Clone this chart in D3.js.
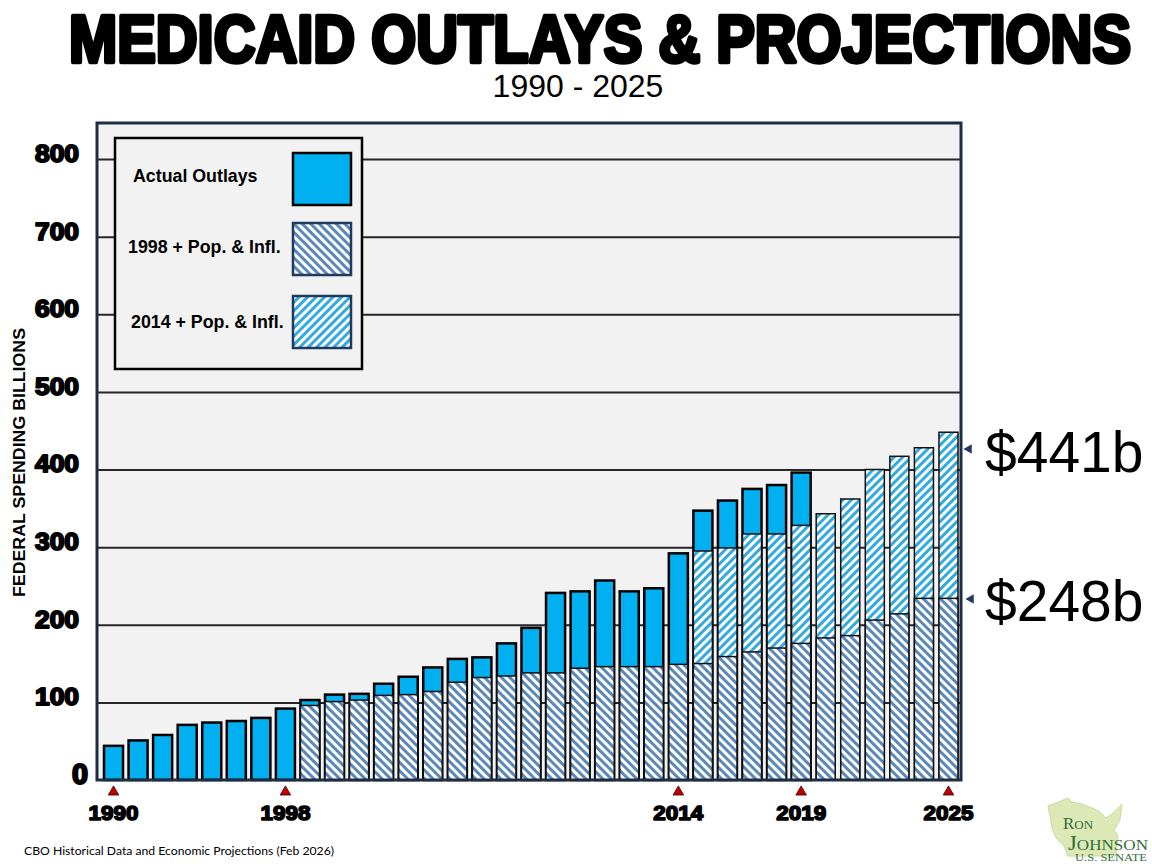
<!DOCTYPE html>
<html>
<head>
<meta charset="utf-8">
<script src="https://cdn.jsdelivr.net/npm/d3@7"></script>
<style>
  body { margin: 0; background: #fff; }
  svg { display: block; }
  .heavy { font-family: "Liberation Sans", Arial, sans-serif; font-weight: bold; stroke: #000; stroke-linejoin: round; paint-order: stroke; }
  .arial { font-family: "Liberation Sans", Arial, sans-serif; }
</style>
</head>
<body>
<div id="chart"></div>
<script>
// Data (billions of dollars)
var years = [1991, 1992, 1993, 1994, 1995, 1996, 1997, 1998, 1999, 2000,
             2001, 2002, 2003, 2004, 2005, 2006, 2007, 2008, 2009, 2010,
             2011, 2012, 2013, 2014, 2015, 2016, 2017, 2018, 2019, 2020,
             2021, 2022, 2023, 2024, 2025];

var actualOutlays = [44, 51, 58, 71, 74, 76, 80, 92, 103, 110,
                     111, 124, 133, 145, 156, 158, 176, 196, 241, 243,
                     257, 243, 247, 292, 347, 360, 375, 380, 396, null,
                     null, null, null, null, null];

var proj1998 = [null, null, null, null, null, null, null, null, 96, 101,
                103, 109, 110, 114, 126, 132, 134, 138, 138, 144,
                146, 146, 146, 149, 150, 159, 165, 170, 176, 183,
                186, 206, 214, 234, 234];

var proj2014 = [null, null, null, null, null, null, null, null, null, null,
                null, null, null, null, null, null, null, null, null, null,
                null, null, null, null, 295, 299, 317, 317, 328, 343,
                362, 400, 417, 428, 448];

var yTicks = [0, 100, 200, 300, 400, 500, 600, 700, 800];
var tickYears = [1991, 1998, 2014, 2019, 2025];
var tickLabels = ["1990", "1998", "2014", "2019", "2025"];
var legendLabels = ["Actual Outlays", "1998 + Pop. & Infl.", "2014 + Pop. & Infl."];
var calloutLabels = ["$441b", "$248b"];

var svgWidth = 1152;
var svgHeight = 864;
var plot = { left: 97, right: 961, top: 123, bottom: 780 };

var svg = d3.select("#chart").append("svg")
  .attr("width", svgWidth)
  .attr("height", svgHeight);

// hatch patterns
var defs = svg.append("defs");
function hatch(id, color, angle) {
  var p = defs.append("pattern")
    .attr("id", id)
    .attr("patternUnits", "userSpaceOnUse")
    .attr("width", 6)
    .attr("height", 6)
    .attr("patternTransform", `rotate(${angle})`);
  p.append("rect").attr("width", 6).attr("height", 6).attr("fill", "#fff");
  p.append("rect").attr("width", 3).attr("height", 6).attr("fill", color);
}
hatch("hatch1998", "#5b88bb", -45);
hatch("hatch2014", "#33aade", 45);

// plot background
svg.append("rect")
  .attr("x", plot.left).attr("y", plot.top)
  .attr("width", plot.right - plot.left)
  .attr("height", plot.bottom - plot.top)
  .attr("fill", "#f2f2f2");

// scales
var x = d3.scaleBand()
  .domain(years)
  .range([104, 958])
  .paddingInner(0.225)
  .paddingOuter(0);

var y = d3.scaleLinear()
  .domain([0, 800])
  .range([plot.bottom, 159]);

// gridlines
svg.append("g")
  .attr("transform", `translate(${plot.left},0)`)
  .call(d3.axisLeft(y).tickValues(yTicks.slice(1)).tickSize(-(plot.right - plot.left)).tickFormat(""))
  .call(g => g.select(".domain").remove())
  .selectAll("line")
  .attr("stroke", "#262626")
  .attr("stroke-width", 2);

// bars: actual, then 2014 projection, then 1998 projection on top
var series = [
  { values: actualOutlays, fill: "#00b0f0", stroke: "#000", width: 2.5 },
  { values: proj2014, fill: "url(#hatch2014)", stroke: "#111", width: 1.5 },
  { values: proj1998, fill: "url(#hatch1998)", stroke: "#111", width: 1.5 }
];

series.forEach(function(s) {
  var rows = years.map((yr, i) => ({ year: yr, v: s.values[i] })).filter(d => d.v != null);
  svg.append("g").selectAll("rect")
    .data(rows)
    .join("rect")
    .attr("x", d => x(d.year))
    .attr("y", d => y(d.v))
    .attr("width", x.bandwidth())
    .attr("height", d => y(0) - y(d.v))
    .attr("fill", s.fill)
    .attr("stroke", s.stroke)
    .attr("stroke-width", s.width);
});

// frame
svg.append("rect")
  .attr("x", plot.left).attr("y", plot.top)
  .attr("width", plot.right - plot.left)
  .attr("height", plot.bottom - plot.top)
  .attr("fill", "none")
  .attr("stroke", "#1f2d44")
  .attr("stroke-width", 3);

// y tick labels
var yAxis = svg.append("g")
  .attr("transform", `translate(${plot.left},0)`)
  .call(d3.axisLeft(y).tickValues(yTicks).tickSize(0).tickPadding(18))
  .call(g => g.select(".domain").remove());

yAxis.selectAll("text")
  .attr("class", "heavy")
  .attr("font-size", 23)
  .attr("stroke-width", 1.8)
  .attr("textLength", 44)
  .attr("lengthAdjust", "spacingAndGlyphs")
  .attr("fill", "#000")
  .attr("y", -5);

yAxis.selectAll(".tick").filter(d => d === 0).select("text")
  .attr("font-size", 29)
  .attr("stroke-width", 2.2)
  .attr("textLength", 16)
  .attr("x", -9)
  .attr("y", -6);

// x tick labels with red markers
var xAxis = svg.append("g")
  .attr("transform", `translate(0,${plot.bottom})`)
  .call(d3.axisBottom(x).tickValues(tickYears).tickSize(0).tickPadding(25)
    .tickFormat((d, i) => tickLabels[i]))
  .call(g => g.select(".domain").remove());

xAxis.selectAll("text")
  .attr("class", "heavy")
  .attr("font-size", 21)
  .attr("stroke-width", 1.6)
  .attr("textLength", 50)
  .attr("lengthAdjust", "spacingAndGlyphs")
  .attr("fill", "#000");

xAxis.selectAll(".tick").append("path")
  .attr("d", d3.symbol(d3.symbolTriangle, 48))
  .attr("transform", "translate(0,12)")
  .attr("fill", "#c00000")
  .attr("stroke", "#3a0000")
  .attr("stroke-width", 0.8);

// y axis title
svg.append("text")
  .attr("class", "arial")
  .attr("transform", "translate(25,462.5) rotate(-90)")
  .attr("text-anchor", "middle")
  .attr("font-size", 17)
  .attr("font-weight", "bold")
  .attr("textLength", 269)
  .attr("lengthAdjust", "spacingAndGlyphs")
  .text("FEDERAL SPENDING BILLIONS");

// legend
var legend = svg.append("g");
legend.append("rect")
  .attr("x", 115).attr("y", 138)
  .attr("width", 247).attr("height", 231)
  .attr("fill", "#f2f2f2")
  .attr("stroke", "#000")
  .attr("stroke-width", 2.5);

var legendItems = [
  { fill: "#00b0f0", stroke: "#000", sy: 153, tx: 133, ty: 182 },
  { fill: "url(#hatch1998)", stroke: "#1f3a5f", sy: 223, tx: 128, ty: 253 },
  { fill: "url(#hatch2014)", stroke: "#1f3a5f", sy: 296, tx: 131, ty: 328 }
];

legend.selectAll(".swatch")
  .data(legendItems)
  .join("rect")
  .attr("class", "swatch")
  .attr("x", 293).attr("y", d => d.sy)
  .attr("width", 58).attr("height", 52)
  .attr("fill", d => d.fill)
  .attr("stroke", d => d.stroke)
  .attr("stroke-width", 2.5);

legend.selectAll(".ltext")
  .data(legendItems)
  .join("text")
  .attr("class", "ltext arial")
  .attr("x", d => d.tx).attr("y", d => d.ty)
  .attr("font-size", 17.8)
  .attr("font-weight", "bold")
  .attr("fill", "#000")
  .text((d, i) => legendLabels[i]);

// right-hand callouts
var callouts = [{ ty: 472, my: 449, mx: 969 }, { ty: 621, my: 599, mx: 971 }];
svg.selectAll(".callmark")
  .data(callouts)
  .join("path")
  .attr("class", "callmark")
  .attr("d", d3.symbol(d3.symbolTriangle, 40))
  .attr("transform", d => `translate(${d.mx},${d.my}) rotate(-90)`)
  .attr("fill", "#1f3a5f");

svg.selectAll(".calltext")
  .data(callouts)
  .join("text")
  .attr("class", "calltext arial")
  .attr("x", 985).attr("y", d => d.ty)
  .attr("font-size", 57)
  .attr("fill", "#000")
  .text((d, i) => calloutLabels[i]);

// titles (smaller font stretched vertically, so the natural width stays on the page)
svg.append("text")
  .attr("class", "heavy")
  .attr("transform", "translate(69,62) scale(1,1.16)")
  .attr("font-size", 57)
  .attr("stroke-width", 3.8)
  .attr("textLength", 1062)
  .attr("lengthAdjust", "spacingAndGlyphs")
  .text("MEDICAID OUTLAYS & PROJECTIONS");

svg.append("text")
  .attr("class", "arial")
  .attr("x", 578).attr("y", 97)
  .attr("text-anchor", "middle")
  .attr("font-size", 32)
  .text("1990 - 2025");

// source note
svg.append("text")
  .attr("x", 24).attr("y", 855)
  .attr("font-family", "Lato, 'Open Sans', sans-serif")
  .attr("font-size", 11.5)
  .attr("textLength", 310)
  .attr("lengthAdjust", "spacingAndGlyphs")
  .text("CBO Historical Data and Economic Projections (Feb 2026)");

// logo
var logo = svg.append("g").attr("transform", "translate(1046,796)");
logo.append("path")
  .attr("d", "M2,10 L12,6 L22,2 L26,6 L36,8 L46,12 L54,16 L60,22 L66,18 L76,8 L74,24 L68,34 L72,40 L70,60 L22,60 L18,50 L10,42 L6,32 L4,20 Z")
  .attr("fill", "#dce8b6")
  .attr("stroke", "#cbdca2");

var logoText = logo.append("g")
  .attr("font-family", "'Liberation Serif', 'DejaVu Serif', serif")
  .attr("fill", "#2f6e3a");
var t1 = logoText.append("text").attr("x", 17).attr("y", 33);
t1.append("tspan").attr("font-size", 17).text("R");
t1.append("tspan").attr("font-size", 13).text("ON");
logoText.append("text").attr("x", 22).attr("y", 54)
  .attr("textLength", 80)
  .attr("lengthAdjust", "spacingAndGlyphs")
  .call(t => {
    t.append("tspan").attr("font-size", 20).text("J");
    t.append("tspan").attr("font-size", 15).text("OHNSON");
  });
logoText.append("text").attr("x", 29).attr("y", 65)
  .attr("font-size", 9.5)
  .attr("textLength", 72)
  .attr("lengthAdjust", "spacingAndGlyphs")
  .text("U.S. SENATE");
</script>
</body>
</html>
